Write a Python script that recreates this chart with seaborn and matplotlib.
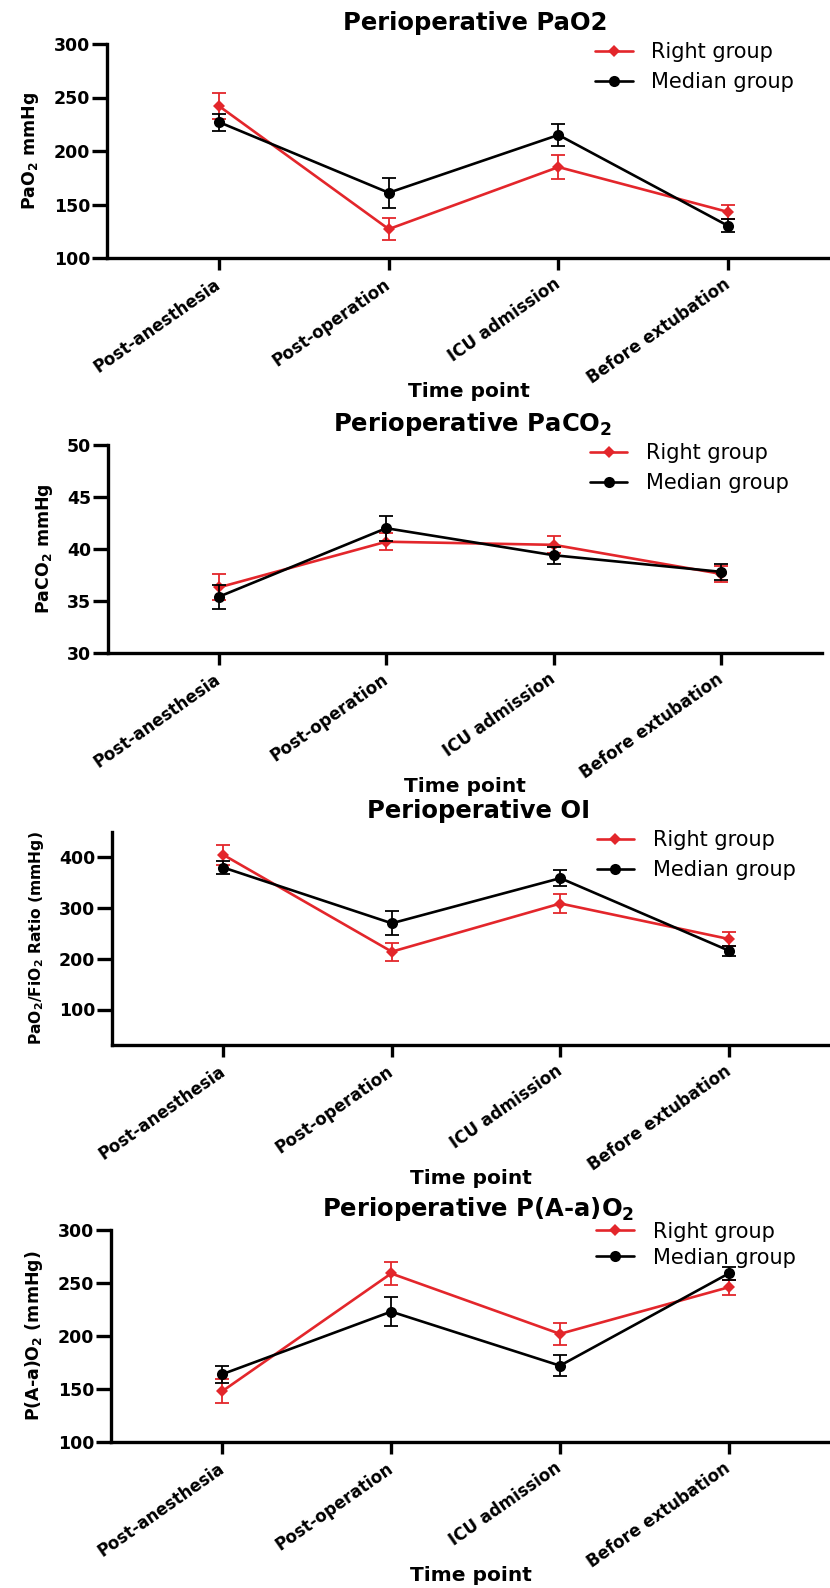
import numpy as np
import pandas as pd
import matplotlib
matplotlib.use('Agg')
import matplotlib.pyplot as plt
import seaborn as sns

# x categories and groups
time_points = ['Post-anesthesia', 'Post-operation', 'ICU admission', 'Before extubation']
groups = ['Right group', 'Median group']
group_colors = {'Right group': '#E3262B', 'Median group': '#000000'}
group_markers = {'Right group': 'D', 'Median group': 'o'}
group_msize = {'Right group': 6, 'Median group': 8}

# means and error bars
pao2_right = [242, 127, 185, 143]
pao2_right_err = [12, 10.5, 11, 7]
pao2_median = [227, 161, 215, 130]
pao2_median_err = [8, 14, 10, 6]

paco2_right = [36.3, 40.7, 40.4, 37.6]
paco2_right_err = [1.25, 0.8, 0.83, 0.8]
paco2_median = [35.4, 42.0, 39.4, 37.8]
paco2_median_err = [1.15, 1.2, 0.8, 0.75]

oi_right = [405, 214, 309, 239]
oi_right_err = [20, 18, 18, 13]
oi_median = [380, 270, 359, 216]
oi_median_err = [13, 24, 16, 10]

aao2_right = [148, 259, 202, 246]
aao2_right_err = [11, 11, 10.5, 7]
aao2_median = [164, 223, 172, 259]
aao2_median_err = [8, 14, 10, 6]

sns.set_style('ticks')
plt.rcParams['font.family'] = ['DejaVu Sans']
plt.rcParams['mathtext.default'] = 'regular'
for key in ['text.color', 'axes.labelcolor', 'xtick.color', 'ytick.color', 'axes.edgecolor']:
    plt.rcParams[key] = 'black'

W, H = 830, 1588
fig = plt.figure(figsize=(W / 100, H / 100), dpi=100)


def draw_panel(rect_px, right, right_err, median, median_err, title, ylabel,
               ylim, yticks, ylabel_size=12.5, leg_y=1.01, leg_space=0.5):
    left, top, right_px, bottom = rect_px
    ax = fig.add_axes([left / W, 1 - bottom / H, (right_px - left) / W, (bottom - top) / H])
    vals = {'Right group': (right, right_err), 'Median group': (median, median_err)}
    for g in groups:
        m, e = vals[g]
        df = pd.DataFrame({'Time point': time_points, 'value': m})
        sns.lineplot(data=df, x='Time point', y='value', color=group_colors[g],
                     marker=group_markers[g], markersize=group_msize[g],
                     markeredgewidth=0, linewidth=1.9, sort=False, label=g, ax=ax)
        ax.errorbar(time_points, m, yerr=e, fmt='none', ecolor=group_colors[g],
                    elinewidth=1.3, capsize=5, capthick=1.3)
    ax.set_xlim(-0.66, 3.6)
    ax.set_ylim(*ylim)
    ax.set_yticks(yticks)
    sns.despine(ax=ax)
    for s in ['left', 'bottom']:
        ax.spines[s].set_linewidth(2.4)
    ax.tick_params(axis='y', length=11, width=2.4, labelsize=12.5, pad=1)
    ax.tick_params(axis='x', length=8.5, width=2.4, labelsize=12, pad=9)
    for lab in ax.get_yticklabels():
        lab.set_fontweight('bold')
    for lab in ax.get_xticklabels():
        lab.set_fontweight('bold')
        lab.set_rotation(35)
        lab.set_ha('right')
        lab.set_va('center')
        lab.set_rotation_mode('anchor')
    ax.set_title(title, fontsize=17.5, fontweight='bold', pad=10, x=0.51)
    ax.set_ylabel(ylabel, fontsize=ylabel_size, fontweight='bold', labelpad=9)
    ax.set_xlabel('Time point', fontsize=14.5, fontweight='bold', va='top')
    ax.xaxis.set_label_coords(0.5, -124 / (bottom - top))
    ax.legend(loc='upper left', bbox_to_anchor=(0.675, leg_y), frameon=False,
              fontsize=15, handlelength=1.8, handletextpad=0.9,
              labelspacing=leg_space, borderaxespad=0, borderpad=0)
    return ax


draw_panel((107, 44, 830, 258), pao2_right, pao2_right_err, pao2_median, pao2_median_err,
           'Perioperative PaO2', 'PaO$_2$ mmHg', (100, 300), [100, 150, 200, 250, 300])
draw_panel((108, 445, 822, 653), paco2_right, paco2_right_err, paco2_median, paco2_median_err,
           'Perioperative PaCO$_2$', 'PaCO$_2$ mmHg', (30, 50), [30, 35, 40, 45, 50])
draw_panel((112, 832, 830, 1045), oi_right, oi_right_err, oi_median, oi_median_err,
           'Perioperative OI', 'PaO$_2$/FiO$_2$ Ratio (mmHg)', (30, 450), [100, 200, 300, 400],
           ylabel_size=11.2)
draw_panel((111, 1230, 830, 1442), aao2_right, aao2_right_err, aao2_median, aao2_median_err,
           'Perioperative P(A-a)O$_2$', 'P(A-a)O$_2$ (mmHg)', (100, 300),
           [100, 150, 200, 250, 300], leg_y=1.04, leg_space=0.3)

fig.savefig('out.png', dpi=100)
